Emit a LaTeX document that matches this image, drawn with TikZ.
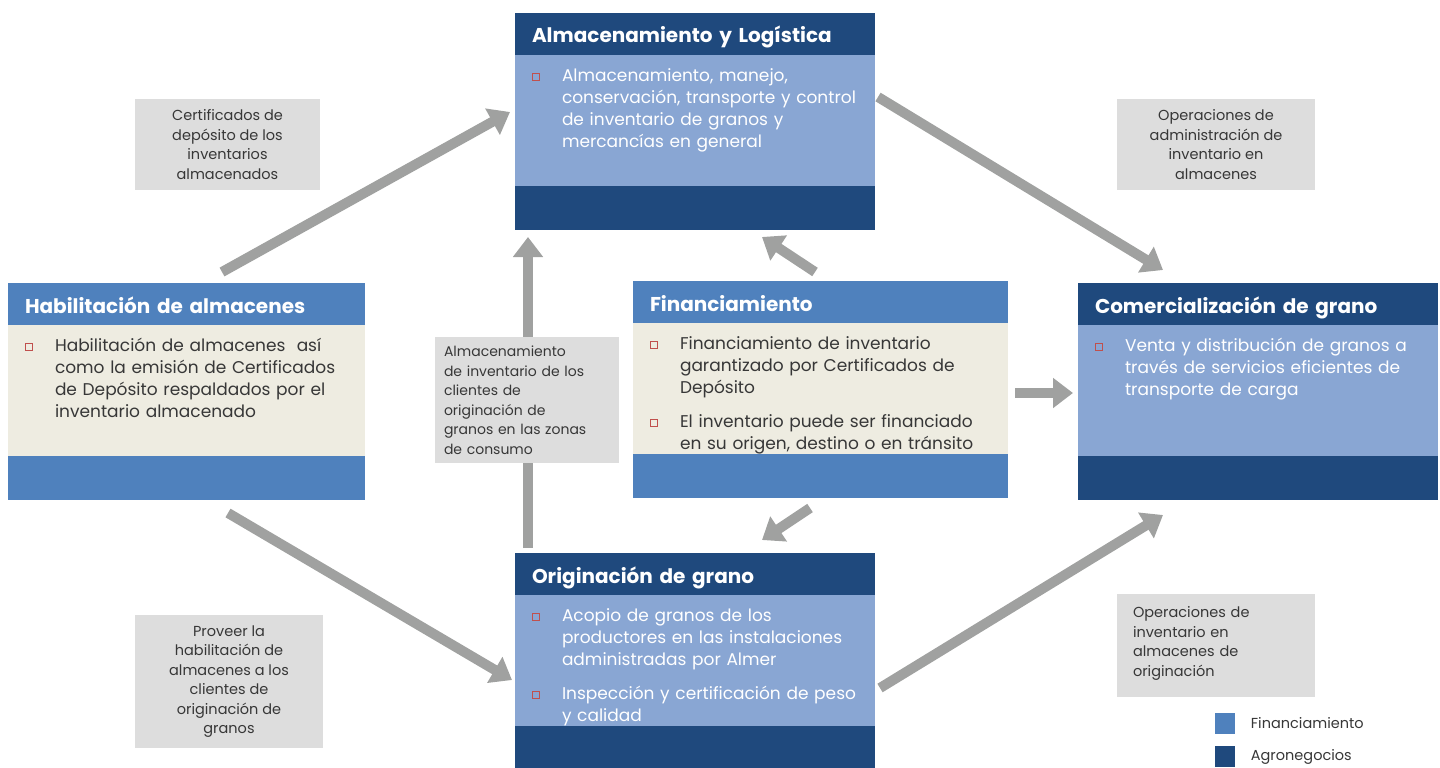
\documentclass[tikz,border=0pt]{standalone}
\usepackage{fontspec}
\setmainfont{Poppins}
\usetikzlibrary{positioning,arrows.meta}

\definecolor{azulosc}{RGB}{31,73,125}
\definecolor{azulmed}{RGB}{79,129,189}
\definecolor{azulcla}{RGB}{137,166,211}
\definecolor{beige}{RGB}{238,236,225}
\definecolor{grisflecha}{RGB}{160,161,160}
\definecolor{grisetiq}{RGB}{221,221,221}
\definecolor{rojovin}{RGB}{192,80,77}
\definecolor{textoosc}{RGB}{55,55,55}

% vineta cuadrada y bloque de texto de cada caja
\newcommand{\vineta}{\textcolor{rojovin}{\raisebox{4.5pt}{\setlength\fboxsep{3.2pt}\setlength\fboxrule{0.8pt}\fbox{}}}}
\newcommand{\punto}[1]{\par\noindent\hangindent=30pt\hangafter=1\makebox[30pt][l]{\vineta}#1\par}
\newcommand{\bloque}[1]{\vbox to 131pt{\hbox{}\vskip 4pt #1\vfil}}

\begin{document}
\begin{tikzpicture}[x=1pt,y=-1pt]
    \useasboundingbox (0,0) rectangle (1440,768);

    % Estilos de nodos
    \tikzstyle{titulo} = [rectangle, anchor=north west, text width=326pt, minimum height=42pt, inner xsep=17pt, inner ysep=0pt, outer sep=0pt, align=left, text=white, text height=19pt, text depth=1pt, font=\bfseries\fontsize{20}{22}\selectfont]
    \tikzstyle{cuerpo} = [rectangle, text width=326pt, inner xsep=17pt, inner ysep=0pt, outer sep=0pt, align=left, font=\fontsize{17}{22}\selectfont]
    \tikzstyle{banda} = [rectangle, minimum width=360pt, minimum height=44pt, inner sep=0pt, outer sep=0pt]
    \tikzstyle{etiqueta} = [rectangle, fill=grisetiq, inner sep=0pt, text=textoosc, font=\fontsize{14.5}{19.5}\selectfont]
    \tikzstyle{flecha} = [draw=grisflecha, line width=10pt, -{Triangle[length=20pt,width=29pt]}]
    \tikzstyle{leyenda} = [rectangle, minimum width=20pt, minimum height=21pt, inner sep=0pt]

    % Nodos
    \node (almT) [titulo, fill=azulosc] at (515,13) {Almacenamiento y Logística};
    \node (alm) [cuerpo, fill=azulcla, text=white, below=0pt of almT] {\bloque{\punto{Almacenamiento, manejo,\newline conservación, transporte y control\newline de inventario de granos y\newline mercancías en general}}};
    \node (almB) [banda, fill=azulosc, below=0pt of alm] {};

    \node (habT) [titulo, fill=azulmed, text width=323pt] at (8,283) {Habilitación de almacenes};
    \node (hab) [cuerpo, fill=beige, text=textoosc, text width=323pt, below=0pt of habT] {\bloque{\punto{Habilitación de almacenes\ \ así\newline como la emisión de Certificados\newline de Depósito respaldados por el\newline inventario almacenado}}};
    \node (habB) [banda, fill=azulmed, minimum width=357pt, below=0pt of hab] {};

    \node (finT) [titulo, fill=azulmed, text width=341pt] at (633,281) {Financiamiento};
    \node (fin) [cuerpo, fill=beige, text=textoosc, text width=341pt, below=0pt of finT] {\bloque{\punto{Financiamiento de inventario\newline garantizado por Certificados de\newline Depósito}\vskip 12pt\punto{El inventario puede ser financiado\newline en su origen, destino o en tránsito}}};
    \node (finB) [banda, fill=azulmed, minimum width=375pt, below=0pt of fin] {};

    \node (comT) [titulo, fill=azulosc] at (1078,283) {Comercialización de grano};
    \node (com) [cuerpo, fill=azulcla, text=white, below=0pt of comT] {\bloque{\punto{Venta y distribución de granos a\newline través de servicios eficientes de\newline transporte de carga}}};
    \node (comB) [banda, fill=azulosc, below=0pt of com] {};

    \node (oriT) [titulo, fill=azulosc] at (515,553) {Originación de grano};
    \node (ori) [cuerpo, fill=azulcla, text=white, below=0pt of oriT] {\bloque{\punto{Acopio de granos de los\newline productores en las instalaciones\newline administradas por Almer}\vskip 12pt\punto{Inspección y certificación de peso\newline y calidad}}};
    \node (oriB) [banda, fill=azulosc, below=0pt of ori] {};

    % Flechas
    \draw [flecha] ([shift={(35.5,-11)}]habT.north) -- ([shift={(-5,-8.5)}]alm.west);
    \draw [flecha] ([shift={(3,-23.5)}]alm.east) -- ([shift={(-95,-13)}]comT.north);
    \draw [flecha] ([shift={(13,-5)}]oriT.north west) -- ([shift={(13,7)}]almB.south west);
    \draw [flecha] ([shift={(-5.5,-9)}]finT.north) -- ([shift={(67,7)}]almB.south);
    \draw [flecha] ([shift={(-10.5,10)}]finB.south) -- ([shift={(67,-13)}]oriT.north);
    \draw [flecha] ([shift={(7,4.5)}]fin.east) -- ([shift={(-5,2.5)}]com.west);
    \draw [flecha] ([shift={(41.5,13)}]habB.south) -- ([shift={(-3,19.5)}]ori.west);
    \draw [flecha] ([shift={(5,27.5)}]ori.east) -- ([shift={(-95,15)}]comB.south);

    % Etiquetas
    \node (lblCert) [etiqueta, minimum width=185pt, minimum height=91pt, align=center] at (227.5,144.5) {Certificados de\\ depósito de los\\ inventarios\\ almacenados};
    \node (lblOpAdm) [etiqueta, minimum width=198pt, minimum height=91pt, align=center] at (1216,144.5) {Operaciones de\\ administración de\\ inventario en\\ almacenes};
    \node (lblAlmCons) [etiqueta, text width=166pt, inner xsep=9pt, minimum height=126pt, align=left, font=\fontsize{14}{19.5}\selectfont] at (527,400) {Almacenamiento\\ de inventario de los\\ clientes de\\ originación de\\ granos en las zonas\\ de consumo};
    \node (lblProv) [etiqueta, minimum width=188pt, minimum height=133pt, align=center] at (229,681.5) {Proveer la\\ habilitación de\\ almacenes a los\\ clientes de\\ originación de\\ granos};
    \node (lblOpOri) [etiqueta, text width=166pt, inner xsep=16pt, minimum height=103pt, text depth=67pt, align=left] at (1216,645.5) {Operaciones de\\ inventario en\\ almacenes de\\ originación};

    % Leyenda
    \node (legFin) [leyenda, fill=azulmed] at (1224.5,723.5) {};
    \node (legFinTxt) [right=16pt of legFin, inner sep=0pt, text=textoosc, font=\fontsize{14.5}{17}\selectfont] {Financiamiento};
    \node (legAgro) [leyenda, fill=azulosc, below=12pt of legFin] {};
    \node (legAgroTxt) [right=16pt of legAgro, inner sep=0pt, text=textoosc, font=\fontsize{14.5}{17}\selectfont] {Agronegocios};

\end{tikzpicture}
\end{document}
